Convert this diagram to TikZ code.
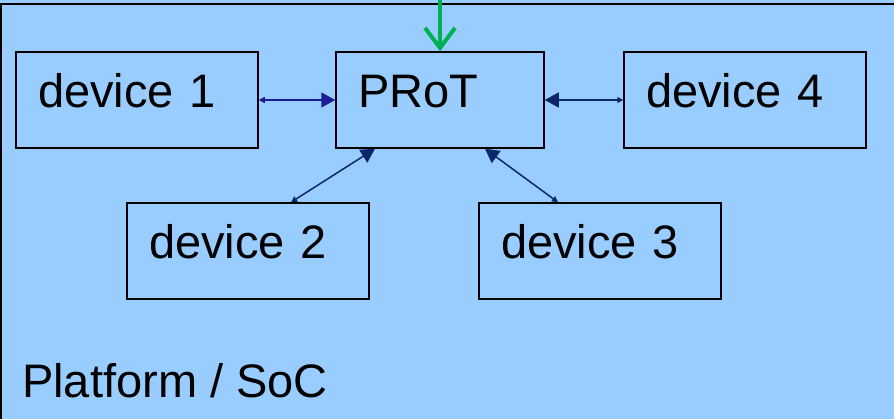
\documentclass[tikz,border=0pt]{standalone}
\usepackage{fontspec}
\setmainfont{Liberation Sans}
\usetikzlibrary{arrows.meta}

\definecolor{platformblue}{RGB}{153,204,255}
\definecolor{linkblue}{RGB}{28,28,150}
\definecolor{linknavy}{RGB}{10,40,105}
\definecolor{feedgreen}{RGB}{0,176,80}

\begin{document}
\begin{tikzpicture}[x=1pt, y=-1pt,
    every node/.style={font=\fontsize{47}{56}\selectfont},
    box/.style={draw=black, line width=1.5pt, rectangle, inner xsep=22pt, inner ysep=0pt,
        text height=40pt, text depth=24pt, minimum height=96pt, align=left, text width=198pt},
    link/.style={line width=1.5pt, {Triangle[length=6pt, width=6pt]}-{Triangle[length=14pt, width=15pt]}}]
            \useasboundingbox (0,0) rectangle (894,419);
            \fill[platformblue] (0,0) rectangle (894,419);
            \draw[line width=1.5pt] (0,4) -- (894,4);
            \draw[line width=1.5pt] (1,4) -- (1,419);
            \node[box, text width=164pt] (prot) at (440,100) {PRoT};
            \foreach \i/\x/\y in {1/137/100, 2/248/251, 3/600/251, 4/745/100} {
                \node[box] (D\i) at (\x,\y) {device \i};
            }
            \node[anchor=base west, inner sep=0pt] (soc) at (22,397) {Platform / SoC};
            \coordinate (feed) at (440,0);
            \draw[link, linkblue] (D1.east) -- (prot.west);
            \draw[link, linknavy] (D4.west) -- (prot.east);
            \draw[link, linknavy] ([xshift=43pt]D2.north) -- ([xshift=-65pt]prot.south);
            \draw[link, linknavy] ([xshift=-42pt]D3.north) -- ([xshift=45pt]prot.south);
            \draw[feedgreen, line width=4pt, -{Straight Barb[length=20pt, width=30pt, line width=4pt]}] (feed) -- (prot.north);

        \end{tikzpicture}
\end{document}
